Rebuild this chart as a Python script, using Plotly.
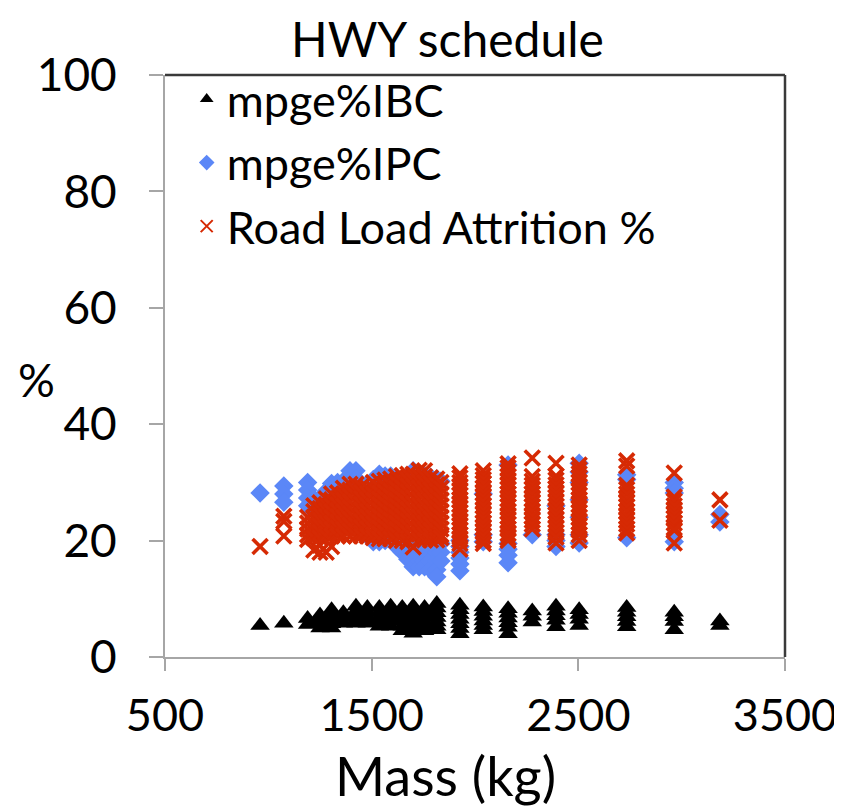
import plotly.graph_objects as go

# Mass columns (kg)
mass_kg = [960, 1075, 1190, 1220, 1250, 1280, 1306, 1335, 1363, 1395, 1424, 1450,
           1479, 1508, 1537, 1565, 1592, 1620, 1648, 1675, 1701, 1730, 1756, 1785,
           1815, 1835, 1927, 2040, 2160, 2277, 2392, 2504, 2734, 2964, 3185]

# mpge%IBC values per mass column
ibc_pct = [
    [5.4], [5.8], [6.6, 5.6], [], [7.2, 6.4, 5.7, 5.0], [], [8.1, 7.3, 6.5, 5.7, 5.0], [],
    [7.6, 6.8, 5.8], [], [8.7, 7.9, 7.1, 6.4, 5.8], [], [8.5, 7.7, 6.9, 6.2, 5.8], [],
    [8.5, 7.7, 6.9, 6.1, 5.3], [], [8.7, 7.9, 7.1, 6.3, 5.3], [],
    [8.5, 7.7, 6.9, 6.1, 5.3, 4.5], [], [8.7, 7.9, 7.1, 6.3, 5.5, 4.8, 4.1], [],
    [8.5, 7.7, 6.9, 6.1, 5.3, 4.5], [], [9.2, 8.4, 7.6, 6.8, 6.0, 5.3, 4.7], [],
    [8.9, 8.1, 7.3, 6.5, 5.7, 4.9, 4.0], [8.6, 7.8, 7.0, 6.2, 5.4, 4.7],
    [8.3, 7.5, 6.7, 5.9, 5.1, 4.0], [7.9, 7.0, 6.0], [8.7, 7.9, 7.1, 6.3, 5.2],
    [8.1, 7.3, 6.5, 5.4], [8.5, 7.7, 6.9, 6.1, 5.2], [7.7, 6.9, 6.1, 4.7], [6.2, 5.4],
]

# mpge%IPC values per mass column
ipc_pct = [
    [28.2], [29.4, 28.0, 26.6], [30.0, 28.7, 27.3, 26.0], [27.2], [27.1],
    [28.5, 27.2], [29.8, 28.4, 27.0], [30.0, 28.7], [30.2, 28.8],
    [32.0, 30.5], [32.0, 30.5], [29.8], [29.6, 28.5], [30.5, 19.8],
    [31.4, 19.8], [31.1, 20.0], [31.1, 20.3], [30.6, 19.0],
    [30.2, 19.5, 18.0], [31.1, 19.5, 18.0, 16.8], [32.0, 19.5, 18.0, 16.5, 15.5],
    [31.4, 19.5, 18.0, 16.5, 15.5], [31.1, 19.5, 18.0, 16.5, 15.5],
    [30.9, 19.5, 18.0, 16.5, 15.0], [30.6, 19.5, 18.0, 16.5, 15.0, 13.8],
    [30.2, 19.5, 18.0, 16.5], [20.0, 19.0, 18.0, 17.0, 16.0, 14.8], [28.0, 21.0, 19.8],
    [33.0, 19.5, 18.5, 17.5, 16.2], [21.0], [26.0, 21.0, 20.0, 19.0],
    [33.3, 31.8, 30.0, 27.0, 24.0, 21.0, 19.6], [31.3, 30.5, 20.5],
    [30.0, 29.0, 28.2, 19.8], [24.5, 23.2],
]

# Road Load Attrition % values per mass column
rla_pct = [
    [19.0],
    [24.2, 23.3, 20.8],
    [24.0, 23.0, 22.0, 21.0, 20.2],
    [26.0, 25.0, 24.0, 23.0, 22.0, 21.0, 20.5, 18.4],
    [26.5, 25.5, 24.5, 23.5, 22.5, 21.5, 20.5, 19.2, 18.0],
    [27.2, 26.2, 25.2, 24.2, 23.2, 22.2, 21.2, 20.8, 18.0],
    [28.0, 27.0, 26.0, 25.0, 24.0, 23.0, 22.0, 20.8, 19.0],
    [28.2, 27.2, 26.2, 25.2, 24.2, 23.2, 22.2, 21.2, 20.8],
    [29.0, 28.0, 27.0, 26.0, 25.0, 24.0, 23.0, 22.0, 20.8],
    [29.7, 28.7, 27.7, 26.7, 25.7, 24.7, 23.7, 22.7, 21.7, 20.8],
    [29.7, 28.7, 27.7, 26.7, 25.7, 24.7, 23.7, 22.7, 21.7, 20.8],
    [29.3, 28.3, 27.3, 26.3, 25.3, 24.3, 23.3, 22.3, 21.3, 20.8],
    [29.1, 28.1, 27.1, 26.1, 25.1, 24.1, 23.1, 22.1, 21.1, 20.8],
    [30.0, 29.0, 28.0, 27.0, 26.0, 25.0, 24.0, 23.0, 22.0, 21.0, 20.5],
    [30.2, 29.2, 28.2, 27.2, 26.2, 25.2, 24.2, 23.2, 22.2, 21.2, 20.3],
    [30.4, 29.4, 28.4, 27.4, 26.4, 25.4, 24.4, 23.4, 22.4, 21.4, 20.3],
    [30.6, 29.6, 28.6, 27.6, 26.6, 25.6, 24.6, 23.6, 22.6, 21.6, 20.3],
    [31.0, 30.0, 29.0, 28.0, 27.0, 26.0, 25.0, 24.0, 23.0, 22.0, 21.0, 20.0],
    [31.2, 30.2, 29.2, 28.2, 27.2, 26.2, 25.2, 24.2, 23.2, 22.2, 21.2, 20.0],
    [31.4, 30.4, 29.4, 28.4, 27.4, 26.4, 25.4, 24.4, 23.4, 22.4, 21.4, 19.8],
    [31.4, 30.4, 29.4, 28.4, 27.4, 26.4, 25.4, 24.4, 23.4, 22.4, 21.4, 20.5, 18.9],
    [32.1, 31.1, 30.1, 29.1, 28.1, 27.1, 26.1, 25.1, 24.1, 23.1, 22.1, 21.1, 20.1],
    [32.0, 31.0, 30.0, 29.0, 28.0, 27.0, 26.0, 25.0, 24.0, 23.0, 22.0, 21.0, 20.1],
    [30.8, 29.8, 28.8, 27.8, 26.8, 25.8, 24.8, 23.8, 22.8, 21.8, 20.8, 20.1],
    [30.6, 29.6, 28.6, 27.6, 26.6, 25.6, 24.6, 23.6, 22.6, 21.6, 20.6, 20.1],
    [30.0, 29.0, 28.0, 27.0, 26.0, 25.0, 24.0, 23.0, 22.0, 21.0, 20.5],
    [31.5, 30.8, 30.0, 29.2, 28.5, 27.8, 27.0, 26.2, 25.5, 24.8, 24.0, 23.2,
     22.5, 21.8, 21.0, 20.2, 19.5, 18.5],
    [32.0, 31.2, 30.5, 29.8, 29.0, 28.2, 27.5, 26.8, 26.0, 25.2, 24.5, 23.8,
     23.0, 22.2, 21.5, 20.8, 20.0, 19.5],
    [33.2, 32.5, 31.8, 31.0, 30.2, 29.5, 28.8, 28.0, 27.2, 26.5, 25.8, 25.0,
     24.2, 23.5, 22.8, 22.0, 21.2, 20.5, 20.0],
    [34.2, 31.0, 30.2, 29.5, 28.8, 28.0, 27.2, 26.5, 25.8, 25.0, 24.2, 23.5,
     22.8, 22.0],
    [33.3, 31.1, 30.4, 29.6, 28.9, 28.1, 27.4, 26.6, 25.9, 25.1, 24.4, 23.6,
     22.9, 22.1, 21.4, 20.6, 19.6],
    [33.0, 32.2, 31.5, 30.8, 30.0, 29.2, 28.5, 27.8, 27.0, 26.2, 25.5, 24.8,
     24.0, 23.2, 22.5, 21.8, 21.0, 20.0],
    [33.7, 32.8, 29.5, 28.8, 28.0, 27.2, 26.5, 25.8, 25.0, 24.2, 23.5, 22.8,
     22.0, 21.3],
    [31.6, 27.5, 26.8, 26.0, 25.2, 24.5, 23.8, 23.0, 22.2, 21.8, 19.6],
    [27.0, 23.5],
]

x_ticks = [500, 1500, 2500, 3500]
y_ticks = [0, 20, 40, 60, 80, 100]

FONT = "Lato"


def flatten(cols):
    xs, ys = [], []
    for m, vals in zip(mass_kg, cols):
        for v in vals:
            xs.append(m)
            ys.append(v)
    return xs, ys


fig = go.Figure()

x1, y1 = flatten(ibc_pct)
fig.add_trace(go.Scatter(
    x=x1, y=y1, mode="markers", name="mpge%IBC", legendgroup="a",
    marker=dict(symbol="triangle-up", size=17, color="black")))

x2, y2 = flatten(ipc_pct)
fig.add_trace(go.Scatter(
    x=x2, y=y2, mode="markers", name="mpge%IPC", legendgroup="b",
    marker=dict(symbol="diamond", size=15, color="#5B87F7")))

x3, y3 = flatten(rla_pct)
fig.add_trace(go.Scatter(
    x=x3, y=y3, mode="markers", name="Road Load Attrition %", legendgroup="c",
    marker=dict(symbol="x-thin", size=15, color="#D62A04",
                line=dict(color="#D62A04", width=3.6))))

fig.update_layout(
    width=842, height=808,
    margin=dict(l=157, r=65, t=67, b=159),
    paper_bgcolor="white", plot_bgcolor="white",
    font=dict(family=FONT, size=46, color="black"),
    showlegend=True,
    legend=dict(x=0.035, y=1.02, xanchor="left", yanchor="top",
                bgcolor="rgba(0,0,0,0)", font=dict(family=FONT, size=45),
                itemsizing="constant", tracegroupgap=2),
    xaxis=dict(range=[500, 3500], tickvals=x_ticks, ticks="outside",
               ticklen=12, tickcolor="#A6A6A6", tickwidth=2,
               showline=True, linecolor="#A6A6A6", linewidth=2,
               showgrid=False, zeroline=False, ticklabelstandoff=6,
               tickfont=dict(family=FONT, size=45)),
    yaxis=dict(range=[0, 100], tickvals=y_ticks, ticks="outside",
               ticklen=14, tickcolor="#A6A6A6", tickwidth=2,
               showline=True, linecolor="#A6A6A6", linewidth=2,
               showgrid=False, zeroline=False, ticklabelstandoff=23,
               tickfont=dict(family=FONT, size=46)),
    shapes=[
        dict(type="line", xref="paper", yref="paper", x0=0, x1=1, y0=1, y1=1,
             line=dict(color="#3A3A3A", width=2.5)),
        dict(type="line", xref="paper", yref="paper", x0=1, x1=1, y0=0, y1=1,
             line=dict(color="#3A3A3A", width=2.5)),
    ],
    annotations=[
        dict(text="HWY schedule", xref="paper", yref="paper", x=0.456, y=1.1151,
             xanchor="center", yanchor="top", showarrow=False,
             font=dict(family=FONT, size=48)),
        dict(text="%", xref="paper", yref="paper", x=-0.208, y=0.476,
             xanchor="center", yanchor="middle", showarrow=False,
             font=dict(family=FONT, size=46)),
        dict(text="Mass (kg)", xref="paper", yref="paper", x=0.452, y=-0.203,
             xanchor="center", yanchor="middle", showarrow=False,
             font=dict(family=FONT, size=54)),
    ],
)

fig.write_html("out.html")
